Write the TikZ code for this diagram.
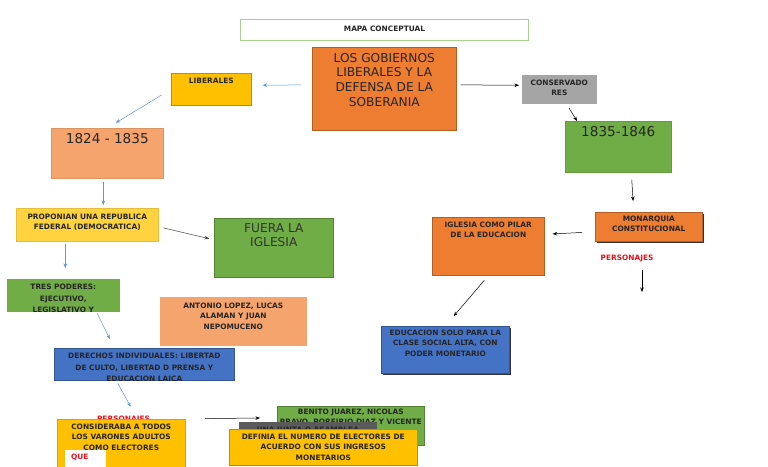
\documentclass[tikz,border=0pt]{standalone}
\usepackage{fontspec}
\setmainfont{DejaVu Sans}
\usetikzlibrary{arrows.meta}
\definecolor{naranja}{HTML}{ED7D31}
\definecolor{salmon}{HTML}{F4A46C}
\definecolor{amarillo}{HTML}{FFC000}
\definecolor{amarclaro}{HTML}{FFD23F}
\definecolor{verde}{HTML}{70AD47}
\definecolor{azul}{HTML}{4472C4}
\definecolor{gris}{HTML}{A5A5A5}
\definecolor{grisosc}{HTML}{5A5A5A}
\definecolor{celeste}{HTML}{5B9BD5}
\definecolor{rojo}{HTML}{E8141E}
\definecolor{verdeclaro}{HTML}{A9D18E}
\newcommand{\chico}{\fontsize{7.4}{10.5}\selectfont\bfseries}
\newcommand{\chicoalto}{\fontsize{7.4}{11.5}\selectfont\bfseries}
\newcommand{\grande}{\fontsize{12.2}{14.7}\selectfont}
\newcommand{\anio}{\fontsize{13.6}{16}\selectfont}

\begin{document}
\begin{tikzpicture}[x=1pt,y=-1pt,
  caja/.style={draw=#1!75!black,fill=#1,line width=0.6pt,inner sep=0pt,anchor=north west},
  sombra/.style={preaction={fill=black!80,transform canvas={xshift=2pt,yshift=-2pt}}},
  txt/.style={anchor=north,align=center,inner sep=0pt,text=black!85,font=\chico},
  flecha/.style={-{Stealth[length=4.5pt,width=3.5pt]},line width=0.5pt,draw=#1}]
  \useasboundingbox[fill=white] (0,0) rectangle (768,466);
  % arriba
  \node[caja=white,draw=verdeclaro,line width=1pt,minimum width=288,minimum height=21] (titulo) at (240,19) {};
  \node[txt] (ttitulo) at ([yshift=-6.6pt]titulo.north) {MAPA CONCEPTUAL};
  \node[caja=naranja,minimum width=144,minimum height=83] (gob) at (312,47) {};
  \node[txt,font=\grande] (tgob) at ([yshift=-6pt]gob.north) {LOS GOBIERNOS\\LIBERALES Y LA\\DEFENSA DE LA\\SOBERANIA};
  \node[caja=amarillo,minimum width=80,minimum height=32] (lib) at (171,73) {};
  \node[txt] (tlib) at ([yshift=-4.6pt]lib.north) {LIBERALES};
  \node[caja=gris,draw=gris,minimum width=74,minimum height=28] (cons) at (522,75) {};
  \node[txt] (tcons) at ([yshift=-4.6pt]cons.north) {CONSERVADO\\RES};
  % liberales
  \node[caja=salmon,draw=salmon!90!black,minimum width=112,minimum height=50] (y1824) at (51,128) {};
  \node[txt,font=\anio] (ty1824) at ([yshift=-5pt]y1824.north) {1824 - 1835};
  \node[caja=amarclaro,draw=amarclaro!90!black,minimum width=142,minimum height=33] (prop) at (16,208) {};
  \node[txt] (tprop) at ([yshift=-5.6pt]prop.north) {PROPONIAN UNA REPUBLICA\\FEDERAL (DEMOCRATICA)};
  \node[caja=verde,minimum width=119,minimum height=59] (fuera) at (214,218) {};
  \node[txt,font=\grande,text=black!80] (tfuera) at ([yshift=-5pt]fuera.north) {FUERA LA\\IGLESIA};
  \node[caja=verde,draw=verde,minimum width=112,minimum height=32] (tres) at (7,279) {};
  \begin{scope}
    \clip (tres.north west) rectangle (tres.south east);
    \node[txt,font=\chicoalto] (ttres) at ([yshift=-5.3pt]tres.north) {TRES PODERES:\\EJECUTIVO,\\LEGISLATIVO Y};
  \end{scope}
  \node[caja=salmon,draw=salmon,minimum width=146,minimum height=48] (ant) at (160,297) {};
  \node[txt] (tant) at ([yshift=-5.6pt]ant.north) {ANTONIO LOPEZ, LUCAS\\ALAMAN Y JUAN\\NEPOMUCENO};
  \node[caja=azul,minimum width=180,minimum height=32] (der) at (54,348) {};
  \begin{scope}
    \clip (der.north west) rectangle (der.south east);
    \node[txt,font=\chicoalto] (tder) at ([yshift=-5.3pt]der.north) {DERECHOS INDIVIDUALES: LIBERTAD\\DE CULTO, LIBERTAD D PRENSA Y\\EDUCACION LAICA};
  \end{scope}
  \node[txt,text=rojo] (pers1) at (123.5,415.5) {PERSONAJES};
  \node[caja=amarillo,draw=amarillo!85!black,minimum width=128,minimum height=50] (consid) at (57,419) {};
  \node[txt] (tconsid) at ([yshift=-4.6pt]consid.north) {CONSIDERABA A TODOS\\LOS VARONES ADULTOS\\COMO ELECTORES};
  \node[caja=white,draw=none,minimum width=41,minimum height=18] (que) at (65,450) {};
  \node[txt,text=rojo,anchor=north west] (tque) at ([xshift=6pt,yshift=-3.6pt]que.north west) {QUE};
  \node[caja=verde,minimum width=147,minimum height=39] (benito) at (277,406) {};
  \node[txt] (tbenito) at ([yshift=-2.6pt]benito.north) {BENITO JUAREZ, NICOLAS\\BRAVO, PORFIRIO DIAZ Y VICENTE};
  \node[caja=grisosc,draw=grisosc,minimum width=137,minimum height=18] (junta) at (239,422) {};
  \node[txt] (tjunta) at ([yshift=-4.6pt]junta.north) {UNA JUNTA O ASAMBLEA};
  \node[caja=amarillo,draw=amarillo!75!black,minimum width=188,minimum height=36] (def) at (229,429) {};
  \node[txt] (tdef) at ([yshift=-4.6pt]def.north) {DEFINIA EL NUMERO DE ELECTORES DE\\ACUERDO CON SUS INGRESOS\\MONETARIOS};
  % conservadores
  \node[caja=verde,draw=verde!90!black,minimum width=106,minimum height=51] (y1835) at (565,121) {};
  \node[txt,font=\anio] (ty1835) at ([yshift=-5pt]y1835.north) {1835-1846};
  \node[caja=naranja,sombra,minimum width=107,minimum height=29] (mon) at (595,212) {};
  \node[txt] (tmon) at ([yshift=-3.6pt]mon.north) {MONARQUIA\\CONSTITUCIONAL};
  \node[caja=naranja,minimum width=112,minimum height=58] (igl) at (432,217) {};
  \node[txt] (tigl) at ([yshift=-4.6pt]igl.north) {IGLESIA COMO PILAR\\DE LA EDUCACION};
  \node[txt,text=rojo] (pers2) at (627,254.6) {PERSONAJES};
  \coordinate (fin) at (642,292);
  \node[caja=azul,sombra,minimum width=128,minimum height=47] (edu) at (381,326) {};
  \node[txt] (tedu) at ([yshift=-3.6pt]edu.north) {EDUCACION SOLO PARA LA\\CLASE SOCIAL ALTA, CON\\PODER MONETARIO};
  % flechas
  \draw[flecha=celeste,shorten <=11pt,shorten >=11pt] ([yshift=4pt]gob.west) -- ([yshift=4pt]lib.east);
  \draw[flecha=black,shorten <=4pt,shorten >=3pt] ([yshift=4pt]gob.east) -- ([yshift=4pt]cons.west);
  \draw[flecha=celeste,shorten <=11pt,shorten >=10pt] (lib.west) -- (y1824.north);
  \draw[flecha=black,shorten <=5pt] ([xshift=7pt]cons.south) -- ([xshift=12pt]y1835.north west);
  \draw[flecha=celeste,shorten <=3pt,shorten >=3pt] ([xshift=-4pt]y1824.south) -- ([xshift=-4pt]y1824.south |- prop.north);
  \draw[flecha=black!75,shorten <=5pt,shorten >=5pt] ([yshift=-2pt]prop.east) -- ([yshift=8pt]fuera.west);
  \draw[flecha=celeste,shorten <=2pt,shorten >=11pt] ([xshift=2pt]tres.north |- prop.south) -- ([xshift=2pt]tres.north);
  \draw[flecha=celeste,shorten <=2pt,shorten >=10pt] ([xshift=33pt]tres.south) -- ([xshift=-30pt]der.north);
  \draw[flecha=celeste,shorten <=3pt,shorten >=10pt] ([xshift=-28pt]der.south) -- ([xshift=12pt]pers1.north);
  \draw[flecha=black,shorten <=55pt,shorten >=17pt] (pers1.east) -- ([yshift=8pt]benito.west);
  \draw[flecha=black,shorten <=7pt,shorten >=11pt] ([xshift=13pt]y1835.south) -- ([xshift=-15pt]mon.north);
  \draw[flecha=black,shorten <=13pt,shorten >=8pt] ([yshift=-5pt]mon.west) -- ([yshift=12pt]igl.east);
  \draw[flecha=black,shorten <=6pt,shorten >=13pt] (igl.south) -- (edu.north);
  \draw[flecha=black,shorten <=8pt] ([xshift=15pt]pers2.south) -- (fin);
\end{tikzpicture}
\end{document}
